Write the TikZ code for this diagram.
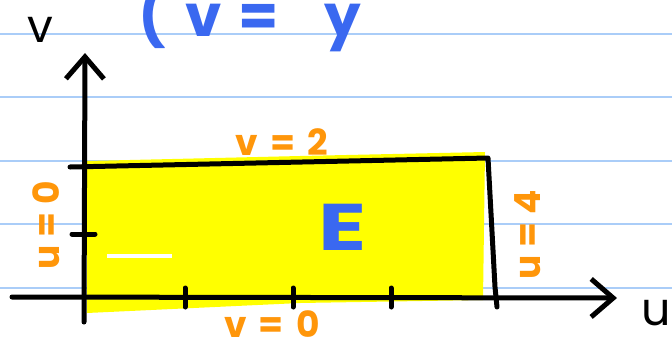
\documentclass[tikz,border=0pt]{standalone}
\usepackage{fontspec}
\setmainfont{Poppins}
\usetikzlibrary{arrows.meta}

\definecolor{penblue}{RGB}{58,104,240}
\definecolor{penorange}{RGB}{255,150,10}
\definecolor{ruleblue}{RGB}{170,205,248}
\definecolor{hilite}{RGB}{255,255,0}

\begin{document}
\begin{tikzpicture}[x=1pt, y=-1pt, >={Straight Barb[length=22pt,width=38pt]},
		pen/.style={line width=5pt, line cap=round, line join=round},
		bound/.style={text=penorange, font=\fontsize{36}{36}\selectfont\bfseries, inner sep=0pt},
		axislabel/.style={font=\fontsize{46}{46}\selectfont, inner sep=0pt}]
	\useasboundingbox (0,0) rectangle (672,346);
	\clip (0,0) rectangle (672,346);
	% ruled paper
	\foreach \y in {34, 97, 161, 224, 288} {
			\draw[ruleblue, line width=2pt] (0,\y) -- (672,\y);
		}
	% region E
	\fill[hilite] (87,161) -- (300,156) -- (485,152) -- (483,300) -- (300,303) -- (87,313) -- cycle;
	\draw[white, line width=4pt] (107,256) -- (172,256);
	% axes
	\coordinate (ustart) at (12,297);
	\coordinate (uend) at (617,298);
	\coordinate (vstart) at (84,322);
	\coordinate (vend) at (85,53);
	\draw[pen, ->] (ustart) -- (uend);
	\draw[pen, ->] (vstart) -- (vend);
	\foreach \x in {185, 293, 391} {
			\draw[pen] (\x,288) -- (\x,307);
		}
	\draw[pen] (72,234) -- (95,234);
	% boundary of E
	\coordinate (tl) at (70,167);
	\coordinate (tr) at (488,158);
	\coordinate (br) at (497,307);
	\draw[pen] (tl) -- (tr) -- (495,287) -- (br);
	% labels
	\node[axislabel, anchor=base] (vlab) at (40,42) {v};
	\node[axislabel, anchor=base] (ulab) at (656,325) {u};
	\node[text=penblue, font=\fontsize{58}{58}\selectfont\bfseries, anchor=base west, inner sep=0pt] (eq) at (138,36)
		{(\hspace{20pt}v\hspace{16pt}=\hspace{46pt}y};
	\node[text=penblue, font=\fontsize{66}{66}\selectfont\bfseries, inner sep=0pt] (E) at (343,227) {\scalebox{1.35}[1]{E}};
	\node[bound, anchor=base] (vtop) at (282,155) {v\,\,=\,\,2};
	\node[bound, anchor=base] (vbot) at (272,337) {v\,\,=\,\,0};
	\node[bound, rotate=90] (uleft) at (46,225) {u = 0};
	\node[bound, rotate=90] (uright) at (528,235) {u = 4};
\end{tikzpicture}
\end{document}
